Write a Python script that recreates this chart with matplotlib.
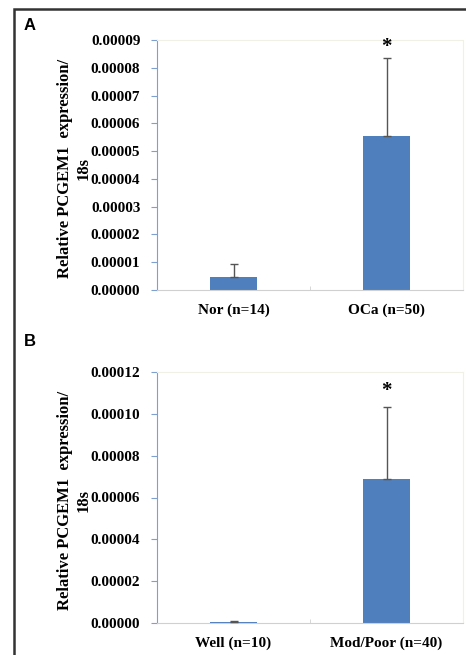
import matplotlib.pyplot as plt
from matplotlib.patches import Rectangle
from matplotlib.ticker import FixedLocator

# panel A
groups_a = ["Nor (n=14)", "OCa (n=50)"]
means_a = [0.0000048, 0.0000555]
errs_a = [0.0000045, 0.0000280]
ticks_a = [0.00000, 0.00001, 0.00002, 0.00003, 0.00004, 0.00005, 0.00006, 0.00007, 0.00008, 0.00009]

# panel B
groups_b = ["Well (n=10)", "Mod/Poor (n=40)"]
means_b = [0.0000006, 0.0000690]
errs_b = [0.0000002, 0.0000345]
ticks_b = [0.00000, 0.00002, 0.00004, 0.00006, 0.00008, 0.00010, 0.00012]

bar_color = "#4F7FBC"
axis_blue = "#7F9FCF"
serif = "Liberation Serif"
ylabel = "Relative PCGEM1  expression/\n18s"

fig = plt.figure(figsize=(4.66, 6.55), dpi=100)

# outer frame
fig.patches.append(Rectangle((14 / 466, -0.1), 1.2, 1 - 9 / 655 + 0.1,
                             transform=fig.transFigure, fill=False,
                             edgecolor="#333333", lw=1.8))


def panel(rect, groups, means, errs, ticks, letter, letter_y, star_pad):
    ax = fig.add_axes(rect)
    x = range(len(groups))
    ax.bar(x, means, width=0.31, color=bar_color, zorder=2)
    ax.errorbar(x, means, yerr=[[0] * len(errs), errs], fmt="none",
                ecolor="#555555", elinewidth=1, capsize=3, capthick=1, zorder=3)
    ax.set_xlim(-0.5, 1.5)
    ax.set_ylim(ticks[0], ticks[-1])
    ax.set_yticks(ticks)
    ax.set_yticklabels([f"{t:.5f}" for t in ticks], fontfamily=serif,
                       fontweight="bold", fontsize=11)
    ax.set_xticks(list(x))
    ax.set_xticklabels(groups, fontfamily=serif, fontweight="bold", fontsize=11)
    ax.xaxis.set_minor_locator(FixedLocator([0.5]))
    ax.tick_params(axis="x", which="major", length=0, pad=10)
    ax.tick_params(axis="x", which="minor", length=3, direction="in", color="#D0D0D0")
    ax.tick_params(axis="y", length=4, color=axis_blue, pad=8)
    ax.spines["left"].set_color(axis_blue)
    ax.spines["bottom"].set_color("#D0D0D0")
    ax.spines["top"].set_color("#F0F0E4")
    ax.spines["right"].set_color("#F0F0E4")
    ax.text(1, means[1] + errs[1] + star_pad, "*", ha="center", va="bottom",
            fontfamily=serif, fontweight="bold", fontsize=15)
    cy = rect[1] + rect[3] / 2 - 3 / 655
    fig.text(74 / 466, cy, ylabel, rotation=90, ha="center", va="center",
             multialignment="center", fontfamily=serif, fontweight="bold",
             fontsize=12, linespacing=1.2)
    fig.text(24 / 466, letter_y, letter, fontfamily="Liberation Sans",
             fontweight="bold", fontsize=12, ha="left", va="center")
    return ax


panel([157 / 466, 1 - 290 / 655, 306 / 466, 250 / 655], groups_a, means_a, errs_a,
      ticks_a, "A", 1 - 25 / 655, 0.0000004)
panel([157 / 466, 1 - 623 / 655, 306 / 466, 251 / 655], groups_b, means_b, errs_b,
      ticks_b, "B", 1 - 341 / 655, 0.0000025)

fig.savefig("out.png", dpi=100)
